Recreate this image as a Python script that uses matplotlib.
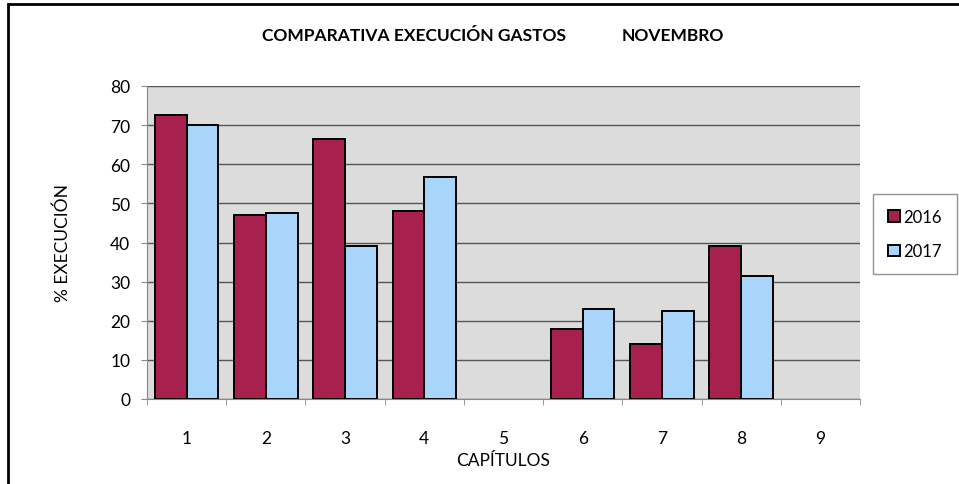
import numpy as np
import matplotlib.pyplot as plt
from matplotlib.patches import Rectangle

plt.rcParams["font.family"] = ["Lato", "DejaVu Sans"]

capitulos = ["1", "2", "3", "4", "5", "6", "7", "8", "9"]
v2016 = [72.5, 47.0, 66.5, 48.0, 0, 18.0, 14.0, 39.0, 0]
v2017 = [70.0, 47.5, 39.0, 56.8, 0, 23.0, 22.5, 31.5, 0]
series = ["2016", "2017"]

fig = plt.figure(figsize=(9.59, 4.85), dpi=100)
# marco exterior do gráfico
fig.patches.append(Rectangle((8 / 959, -0.01), 1.0, 0.999 - 5 / 485 + 0.01,
                             transform=fig.transFigure, fill=False,
                             edgecolor="black", linewidth=2))

ax = fig.add_axes([147 / 959, 85 / 485, 713 / 959, 313 / 485])
ax.set_facecolor("#dcdcdc")

x = np.arange(1, len(capitulos) + 1)
w = 0.4
# só se debuxan as barras con valor (os capítulos 5 e 9 están baleiros)
for vals, off, col, lab in [(v2016, -w / 2, "#a8204e", series[0]),
                            (v2017, w / 2, "#a9d5fa", series[1])]:
    vals = np.array(vals, dtype=float)
    m = vals > 0
    ax.bar(x[m] + off, vals[m], w, color=col, edgecolor="black",
           linewidth=1.4, label=lab, zorder=3)

ax.set_xlim(0.5, 9.5)
ax.set_ylim(0, 80)
ax.set_yticks(range(0, 81, 10))
ax.yaxis.grid(True, color="#555555", linewidth=1, zorder=1)
ax.set_xticks(x)
ax.set_xticklabels(capitulos)
ax.set_xticks(np.arange(0.5, 10, 1), minor=True)
ax.tick_params(axis="x", which="major", length=0, labelsize=12.5, pad=22)
ax.tick_params(axis="x", which="minor", length=4, color="#888888")
ax.tick_params(axis="y", length=4, color="#888888", labelsize=12.5, pad=8)

for s in ["top", "right"]:
    ax.spines[s].set_visible(False)
ax.spines["left"].set_color("#888888")
ax.spines["bottom"].set_color("#888888")

ax.set_xlabel("CAPÍTULOS", fontsize=12.5, labelpad=5)
ax.set_ylabel("% EXECUCIÓN", fontsize=12.5, labelpad=28)

fig.text(0.432, 0.925, "COMPARATIVA EXECUCIÓN GASTOS", ha="center", va="center",
         fontsize=12.5, fontweight="bold")
fig.text(0.702, 0.925, "NOVEMBRO", ha="center", va="center",
         fontsize=12.5, fontweight="bold")

ax.legend(loc="upper left", bbox_to_anchor=(1.018, 0.655), frameon=True,
          fancybox=False, edgecolor="#777777", fontsize=12,
          handlelength=0.7, handleheight=0.7, handletextpad=0.25,
          labelspacing=1.1, borderpad=0.9, borderaxespad=0)

fig.savefig("out.png", dpi=100)
